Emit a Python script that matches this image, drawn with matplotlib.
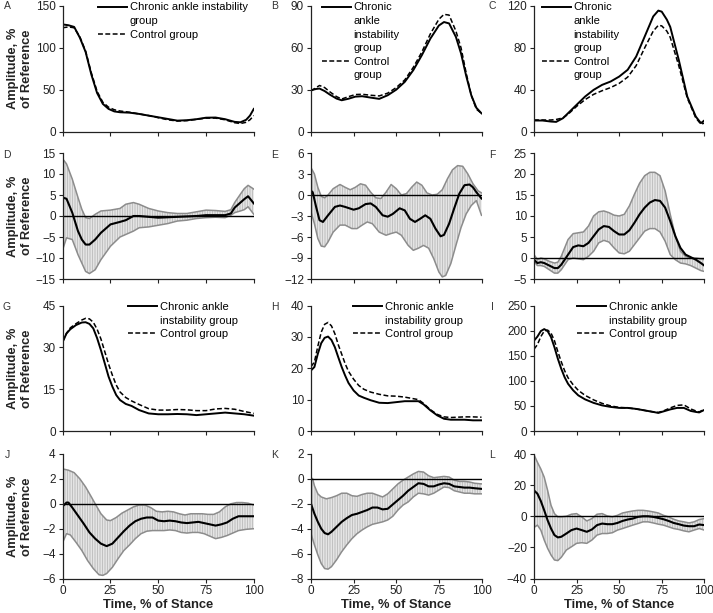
import numpy as np
import matplotlib
matplotlib.use('Agg')
import matplotlib.pyplot as plt
from matplotlib.lines import Line2D

# ---------- top rows: group means (A-C, G-I) ----------
a_x = [0, 3, 6, 9, 12, 15, 18, 21, 24, 27, 30, 35, 40, 45, 50, 55, 60, 65, 70, 75, 80, 85, 90, 93, 96, 98, 100]
a_cai = [128, 127, 125, 112, 95, 68, 46, 33, 27, 24, 23, 22.5, 21, 19, 17, 15, 13, 13.5, 14.7, 16.5, 16.7, 14.7, 11.5, 11, 14, 19, 27]
a_ctl = [124, 125, 124, 113, 96, 70, 48, 35, 29, 26, 24.5, 23, 21, 19, 16.5, 14, 12.5, 13, 14.5, 16, 16, 14, 10.5, 9.5, 11, 14, 19]

b_x = [0, 3, 5, 8, 11, 15, 18, 22, 26, 30, 35, 40, 45, 50, 55, 60, 65, 70, 75, 78, 81, 85, 88, 91, 94, 97, 100]
b_cai = [29.6, 30.5, 30.8, 29, 26.5, 23.6, 22.4, 23.5, 25, 25.3, 24.3, 23.4, 26, 30, 35.6, 44, 54.7, 66.6, 76, 78.5, 77.5, 67.8, 56, 40, 26, 17, 13]
b_ctl = [29, 31.5, 33, 31.5, 28.5, 25, 23.3, 25, 26.5, 26.7, 26, 25.5, 27.5, 31.5, 37, 46, 57, 70, 80.5, 84, 83.5, 72, 60, 42, 26, 16, 13]

c_x = [0, 5, 10, 13, 17, 20, 25, 30, 35, 40, 45, 50, 55, 60, 65, 70, 73, 75, 78, 80, 85, 90, 95, 98, 100]
c_cai = [10.5, 10.5, 9.5, 9.2, 12.7, 17.5, 25.5, 33.4, 39.8, 44.6, 47.8, 52.5, 59, 71.7, 90.8, 110, 115.6, 114.6, 107, 100, 68.5, 33.4, 14.3, 8, 10.5]
c_ctl = [11, 11, 11, 11.5, 13, 16.5, 24, 30.5, 35.5, 39, 42, 46, 52, 63, 80, 96, 101.5, 101, 96, 90, 63, 32, 13, 7, 8]

g_x = [0, 2, 4, 7, 10, 12, 14, 16, 18, 20, 22, 24, 26, 28, 30, 33, 36, 40, 45, 50, 55, 60, 65, 70, 75, 80, 85, 90, 95, 100]
g_cai = [32, 35, 36.5, 38, 38.9, 39, 38.4, 36.8, 33.3, 29, 24.3, 19.5, 15.9, 12.9, 11.1, 9.7, 9, 7.5, 6.3, 6, 6, 6.1, 6, 5.7, 6, 6.3, 6.6, 6.3, 6, 5.5]
g_ctl = [32, 35, 37, 38.5, 39.8, 40.4, 40.2, 39, 36.5, 33, 28.5, 24, 20, 16.5, 14, 12, 10.8, 9.5, 8, 7.5, 7.5, 7.7, 7.6, 7.3, 7.3, 7.9, 8.1, 7.8, 7, 6.3]

h_x = [0, 2, 4, 6, 8, 10, 12, 14, 16, 18, 20, 22, 25, 28, 31, 35, 40, 45, 50, 55, 60, 63, 66, 70, 74, 78, 82, 86, 90, 95, 100]
h_cai = [19.3, 20.4, 24.6, 28, 29.7, 30.1, 29, 26.7, 23.5, 20.4, 17.7, 15.3, 12.9, 11.3, 10.6, 9.8, 9, 8.9, 9.2, 9.5, 9.5, 9.5, 8.5, 6.6, 5, 3.9, 3.6, 3.6, 3.6, 3.4, 3.4]
h_ctl = [20.5, 22, 27, 31.5, 34, 34.6, 33.5, 31, 27.5, 24.5, 21.5, 19, 16.5, 14.5, 13.3, 12.4, 11.7, 11.2, 11.1, 10.8, 10.3, 10, 8.8, 6.8, 5.3, 4.5, 4.3, 4.4, 4.5, 4.5, 4.4]

i_x = [0, 2, 4, 6, 8, 10, 12, 14, 16, 18, 20, 23, 26, 30, 35, 40, 45, 50, 55, 60, 65, 70, 73, 76, 80, 84, 88, 92, 95, 97, 100]
i_cai = [180, 188, 199, 203, 199, 187, 167, 144, 124, 107, 94, 81, 71, 63, 56, 51, 48, 46, 46, 44, 41, 38, 36, 39, 43, 46, 46, 40, 38, 37, 42]
i_ctl = [163, 172, 188, 199, 201, 195, 180, 158, 138, 120, 106, 92, 81, 71, 62, 55, 50, 47, 46, 44, 41, 38, 37, 40, 46, 51, 52, 44, 40, 38, 43]

# ---------- difference rows: mean difference and 90% CI (D-F, J-L) ----------
d_x = [0, 2, 5, 8, 10, 12, 14, 17, 20, 25, 30, 33, 37, 40, 45, 50, 55, 60, 65, 70, 75, 80, 85, 88, 90, 93, 95, 97, 100]
d_mean = [4.4, 4.1, 0.8, -3.6, -5.6, -6.8, -6.8, -5.6, -4, -2, -1.4, -1.0, 0, 0, -0.2, -0.4, -0.3, -0.2, -0.1, 0, 0.2, 0.2, 0.2, 0.6, 2, 3.2, 4.0, 4.7, 3.0]
d_up = [13.6, 12.4, 8.8, 4.4, 1.6, -0.4, -0.6, 0.4, 1.2, 1.4, 1.8, 2.8, 3.2, 2.8, 1.8, 1.2, 0.8, 0.6, 0.6, 1.0, 1.4, 1.3, 1.1, 1.5, 3.2, 5.2, 6.5, 7.3, 6.4]
d_lo = [-8, -5.2, -5.6, -9.2, -11.2, -13.2, -13.7, -12.8, -10.4, -7.2, -5, -4.4, -3.6, -2.8, -2.6, -2.2, -1.8, -1.2, -1, -0.6, -0.4, -0.3, -0.4, 0.2, 0.8, 1.2, 1.5, 2.2, 0.4]

e_mean_x = [0, 1, 3, 5, 7, 10, 14, 17, 20, 25, 28, 32, 35, 38, 42, 45, 48, 52, 55, 58, 61, 64, 67, 70, 73, 76, 78, 81, 84, 87, 90, 93, 95, 97, 100]
e_mean = [0.6, 0.4, -1.7, -3.6, -3.85, -2.9, -1.7, -1.5, -1.7, -2.1, -1.9, -1.3, -1.2, -1.7, -2.9, -3.1, -2.7, -1.9, -2.2, -3.4, -3.85, -3.4, -2.9, -3.4, -4.8, -5.9, -5.7, -4.1, -1.9, 0.2, 1.4, 1.5, 1.1, 0.4, -0.5]
e_up_x = [0, 2, 4, 6, 8, 10, 13, 17, 20, 23, 26, 29, 32, 35, 38, 41, 44, 47, 50, 53, 56, 59, 62, 65, 68, 71, 74, 77, 80, 83, 86, 89, 92, 95, 98, 100]
e_up = [3.9, 3.0, 1.1, -0.2, -0.4, 0, 0.9, 1.5, 1.1, 0.75, 1.1, 1.6, 1.4, 0.4, -0.4, -0.5, 0.4, 1.5, 0.9, 0, 0.2, 1.1, 1.85, 1.4, 0.3, 0, 0.1, 0.75, 2.3, 3.6, 4.2, 4.1, 3.0, 1.6, 0.6, 0.3]
e_lo_x = [0, 2, 4, 6, 8, 10, 13, 17, 20, 24, 27, 30, 33, 36, 40, 44, 47, 50, 53, 57, 60, 63, 66, 69, 72, 75, 77, 79, 82, 85, 88, 91, 94, 97, 100]
e_lo = [-2.4, -4.1, -6.2, -7.3, -7.4, -6.7, -5.3, -4.3, -4.3, -4.8, -4.8, -4.3, -3.85, -4.1, -5.3, -5.75, -5.5, -5.3, -5.75, -7.2, -7.9, -7.6, -7.2, -7.6, -9.1, -11, -11.7, -11.5, -9.8, -7.2, -4.65, -2.7, -1.5, -0.8, -2.9]

f_x = [0, 2, 4, 6, 9, 12, 14, 16, 18, 20, 23, 26, 29, 32, 35, 38, 41, 44, 47, 50, 53, 56, 59, 62, 65, 68, 71, 74, 77, 80, 83, 86, 89, 92, 95, 98, 100]
f_mean = [-0.4, -1.2, -1, -1.2, -1.8, -2.4, -2.4, -1.6, -0.4, 0.8, 2.6, 3.0, 2.8, 3.6, 5.2, 6.8, 7.6, 7.4, 6.4, 5.6, 5.6, 6.6, 8.4, 10.4, 12, 13.2, 13.8, 13.6, 12, 8.8, 5.2, 2.4, 0.8, 0.2, -0.4, -1.2, -1.8]
f_up = [0.8, -0.4, 0, -0.2, -0.8, -1.2, -1, 0.4, 2.4, 4.4, 5.8, 6, 6.2, 7.6, 10, 11, 11.2, 10.8, 10.2, 10, 10.4, 12.4, 15.2, 17.8, 19.6, 20.4, 20.4, 19.6, 16, 10.4, 5.2, 1.6, 0.4, 0, 0, -0.2, -0.4]
f_lo = [-0.8, -1.8, -1.8, -2, -2.8, -3.6, -3.6, -2.8, -1.6, -0.4, 0, -0.2, -0.4, 0.4, 1.6, 3.6, 4.2, 3.8, 2.4, 1.2, 1, 1.6, 3.2, 4.8, 6.4, 7, 7, 6.2, 4, 0.8, -0.4, -1.2, -1.4, -1.8, -2.4, -3, -3.2]

j_mean_x = [0, 2, 3, 5, 8, 11, 14, 17, 20, 23, 26, 29, 32, 35, 38, 41, 44, 47, 50, 53, 56, 59, 62, 65, 68, 71, 74, 77, 80, 83, 86, 89, 92, 96, 100]
j_mean = [-0.2, 0.1, 0.1, -0.3, -0.95, -1.6, -2.3, -2.8, -3.2, -3.4, -3.2, -2.7, -2.2, -1.75, -1.4, -1.2, -1.1, -1.1, -1.35, -1.4, -1.35, -1.4, -1.5, -1.55, -1.5, -1.45, -1.55, -1.65, -1.75, -1.65, -1.5, -1.2, -1.0, -1.0, -1.0]
j_up_x = [0, 3, 6, 9, 12, 15, 17, 20, 23, 25, 28, 31, 34, 37, 40, 43, 46, 49, 52, 55, 58, 61, 64, 67, 70, 73, 76, 79, 82, 85, 88, 91, 94, 97, 100]
j_up = [2.8, 2.7, 2.5, 2.0, 1.35, 0.55, 0, -0.8, -1.3, -1.35, -1.1, -0.75, -0.5, -0.25, -0.1, -0.1, -0.3, -0.6, -0.65, -0.6, -0.65, -0.8, -0.9, -0.8, -0.8, -0.8, -0.85, -0.85, -0.65, -0.25, 0, 0.1, 0.1, 0.05, -0.1]
j_lo_x = [0, 2, 4, 7, 10, 13, 16, 19, 21, 23, 26, 29, 32, 35, 38, 41, 44, 47, 50, 53, 56, 59, 62, 65, 68, 71, 74, 77, 80, 83, 86, 89, 92, 96, 100]
j_lo = [-3.1, -2.4, -2.5, -3.1, -3.75, -4.55, -5.2, -5.7, -5.75, -5.6, -5.1, -4.4, -3.75, -3.3, -2.8, -2.4, -2.2, -2.15, -2.15, -2.15, -2.1, -2.15, -2.3, -2.35, -2.3, -2.3, -2.4, -2.6, -2.8, -2.7, -2.55, -2.35, -2.15, -2.05, -2.0]

k_x = [0, 2, 4, 6, 8, 10, 12, 15, 18, 21, 24, 27, 30, 33, 36, 39, 42, 45, 48, 51, 54, 57, 60, 63, 66, 69, 72, 75, 78, 81, 84, 87, 90, 93, 96, 100]
k_mean = [-2.0, -2.8, -3.45, -4, -4.35, -4.45, -4.25, -3.85, -3.45, -3.15, -2.9, -2.8, -2.65, -2.5, -2.3, -2.3, -2.45, -2.4, -2.05, -1.7, -1.35, -0.95, -0.65, -0.35, -0.4, -0.6, -0.6, -0.45, -0.35, -0.4, -0.6, -0.65, -0.7, -0.7, -0.75, -0.8]
k_lo = [-4.4, -5.3, -6.1, -6.8, -7.2, -7.25, -7.05, -6.5, -5.85, -5.3, -4.8, -4.4, -4.1, -3.85, -3.65, -3.55, -3.45, -3.3, -3.0, -2.5, -2.1, -1.85, -1.45, -1.15, -1.2, -1.3, -1.15, -0.9, -0.65, -0.7, -0.95, -1.05, -1.15, -1.15, -1.2, -1.2]
k_up_x = [0, 1, 2, 4, 6, 9, 12, 15, 18, 21, 24, 27, 30, 33, 36, 39, 42, 45, 48, 51, 54, 57, 60, 63, 66, 69, 72, 75, 78, 81, 84, 87, 90, 93, 96, 100]
k_up = [0.1, 0, -0.55, -1.2, -1.45, -1.6, -1.5, -1.35, -1.15, -1.15, -1.35, -1.4, -1.25, -1.15, -1.15, -1.3, -1.45, -1.2, -0.8, -0.4, -0.1, 0.15, 0.4, 0.6, 0.55, 0.25, 0.1, 0.15, 0.2, 0.15, -0.1, -0.2, -0.2, -0.25, -0.35, -0.4]

l_x = [0, 2, 4, 6, 8, 10, 12, 14, 16, 19, 22, 25, 28, 31, 34, 37, 40, 43, 46, 49, 52, 55, 58, 61, 64, 67, 70, 73, 76, 79, 82, 85, 88, 91, 94, 97, 100]
l_mean = [16.6, 14.5, 9.8, 3.8, -2.6, -7.9, -12.1, -13.6, -13.2, -11.1, -8.9, -7.9, -8.9, -10, -8.5, -5.7, -4.7, -5.1, -5.1, -4.3, -3, -2.1, -1.5, -0.4, 0, 0, -0.4, -1.1, -1.9, -3, -4.3, -5.1, -6, -6.4, -6.4, -5.3, -5.7]
l_up = [39.6, 34.7, 30.4, 25.1, 16.6, 7, 1.7, -0.4, -0.4, 0, 1.3, 1.7, -0.4, -3, -1.5, 1.3, 1.7, 0.2, -0.4, 0.6, 2.1, 2.8, 3.4, 3.8, 3.8, 3.4, 2.8, 2.1, 0.6, -0.4, -1.9, -3, -3.6, -4.3, -3.6, -2.1, -1.5]
l_lo = [-7.2, -5.7, -8.9, -15.3, -20.6, -24.9, -28.1, -28.5, -26.4, -21.7, -19.6, -17.4, -17, -17.4, -15.3, -12.1, -11.1, -11.1, -10.6, -8.9, -7.9, -6.8, -5.7, -4.7, -3.6, -3.6, -4.3, -5.1, -5.7, -6.8, -7.9, -8.5, -9.4, -10, -8.9, -7.9, -8.9]

x_ticks = [0, 25, 50, 75, 100]
cai_wide = ['Chronic ankle instability', 'group']
cai_mid = ['Chronic ankle', 'instability group']
cai_narrow = ['Chronic', 'ankle', 'instability', 'group']
ctl_wide = ['Control group']
ctl_narrow = ['Control', 'group']

W, H = 713, 613
plt.rcParams['font.family'] = ['Liberation Sans', 'DejaVu Sans']
plt.rcParams['hatch.color'] = '#b8b8b8'
plt.rcParams['hatch.linewidth'] = 0.6

fig = plt.figure(figsize=(W / 100, H / 100), dpi=100)

# pixel layout of the 4x3 grid
cols = [(62.7, 191.1), (311, 170.5), (534, 170.3)]
rows = [(6, 131.5), (153, 279), (305.5, 431), (454, 578.5)]


def make_ax(r, c):
    left, width = cols[c]
    top, bottom = rows[r]
    return fig.add_axes([left / W, 1 - bottom / H, width / W, (bottom - top) / H])


def style(ax, ylim, yticks, bottom_row):
    ax.set_xlim(0, 100)
    ax.set_ylim(*ylim)
    ax.set_xticks(x_ticks)
    ax.set_yticks(yticks)
    for s in ['top', 'right']:
        ax.spines[s].set_visible(False)
    for s in ['left', 'bottom']:
        ax.spines[s].set_color('#222222')
        ax.spines[s].set_linewidth(0.9)
        ax.spines[s].set_zorder(5)
    ax.tick_params(direction='out', length=3, width=0.8, labelsize=8.5, pad=2,
                   colors='#222222')
    if not bottom_row:
        ax.tick_params(axis='x', labelbottom=False)


def plot_means(ax, x, cai, ctl, cai_text, ctl_text, anchor):
    h1, = ax.plot(x, cai, color='black', lw=1.4)
    h2, = ax.plot(x, ctl, color='black', lw=1.1, ls=(0, (3.2, 1.6)))
    blank = Line2D([], [], color='none')
    handles = [h1 if i == 0 else blank for i in range(len(cai_text))]
    handles += [h2 if i == 0 else blank for i in range(len(ctl_text))]
    ax.legend(handles, cai_text + ctl_text, loc='upper left', bbox_to_anchor=anchor,
              frameon=False, fontsize=8, handlelength=2.6, handletextpad=0.25,
              labelspacing=0.32, borderpad=0, borderaxespad=0)


def plot_band(ax, mx, mean, ux, up, lx, lo):
    ax.fill(np.r_[ux, lx[::-1]], np.r_[up, lo[::-1]], facecolor='#f4f4f4',
            hatch='|' * 10, lw=0, zorder=1)
    ax.plot(ux, up, color='#8c8c8c', lw=1.1, zorder=2)
    ax.plot(lx, lo, color='#8c8c8c', lw=1.1, zorder=2)
    ax.axhline(0, color='black', lw=1.0, zorder=3)
    ax.plot(mx, mean, color='black', lw=1.5, zorder=4)


# row 1
ax = make_ax(0, 0)
plot_means(ax, a_x, a_cai, a_ctl, cai_wide, ctl_wide, (0.185, 1.028))
style(ax, (0, 150), [0, 50, 100, 150], False)
ax = make_ax(0, 1)
plot_means(ax, b_x, b_cai, b_ctl, cai_narrow, ctl_narrow, (0.065, 1.028))
style(ax, (0, 90), [0, 30, 60, 90], False)
ax = make_ax(0, 2)
plot_means(ax, c_x, c_cai, c_ctl, cai_narrow, ctl_narrow, (0.047, 1.028))
style(ax, (0, 120), [0, 40, 80, 120], False)

# row 2
ax = make_ax(1, 0)
plot_band(ax, d_x, d_mean, d_x, d_up, d_x, d_lo)
style(ax, (-15, 15), [-15, -10, -5, 0, 5, 10, 15], False)
ax = make_ax(1, 1)
plot_band(ax, e_mean_x, e_mean, e_up_x, e_up, e_lo_x, e_lo)
style(ax, (-12, 6), [-12, -9, -6, -3, 0, 3, 6], False)
ax = make_ax(1, 2)
plot_band(ax, f_x, f_mean, f_x, f_up, f_x, f_lo)
style(ax, (-5, 25), [-5, 0, 5, 10, 15, 20, 25], False)

# row 3
ax = make_ax(2, 0)
plot_means(ax, g_x, g_cai, g_ctl, cai_mid, ctl_wide, (0.342, 1.028))
style(ax, (0, 45), [0, 15, 30, 45], False)
ax = make_ax(2, 1)
plot_means(ax, h_x, h_cai, h_ctl, cai_mid, ctl_wide, (0.246, 1.028))
style(ax, (0, 40), [0, 10, 20, 30, 40], False)
ax = make_ax(2, 2)
plot_means(ax, i_x, i_cai, i_ctl, cai_mid, ctl_wide, (0.252, 1.028))
style(ax, (0, 250), [0, 50, 100, 150, 200, 250], False)

# row 4
ax = make_ax(3, 0)
plot_band(ax, j_mean_x, j_mean, j_up_x, j_up, j_lo_x, j_lo)
style(ax, (-6, 4), [-6, -4, -2, 0, 2, 4], True)
ax = make_ax(3, 1)
plot_band(ax, k_x, k_mean, k_up_x, k_up, k_x, k_lo)
style(ax, (-8, 2), [-8, -6, -4, -2, 0, 2], True)
ax = make_ax(3, 2)
plot_band(ax, l_x, l_mean, l_x, l_up, l_x, l_lo)
style(ax, (-40, 40), [-40, -20, 0, 20, 40], True)

axes = fig.axes
for r in range(4):
    a = axes[r * 3]
    a.text(-0.2235, 0.5, 'Amplitude, %\nof Reference', transform=a.transAxes,
           rotation=90, ha='center', va='center', multialignment='center',
           fontsize=9.3, fontweight='bold', color='#222222')
for c in range(3):
    a = axes[9 + c]
    a.text(0.5, -0.213, 'Time, % of Stance', transform=a.transAxes, ha='center',
           va='center', fontsize=9.3, fontweight='bold', color='#222222')

# panel letters
letters = ['A', 'B', 'C', 'D', 'E', 'F', 'G', 'H', 'I', 'J', 'K', 'L']
letter_x = [7, 275, 492]
letter_y = [6.3, 155, 307, 455]
for n, s in enumerate(letters):
    fig.text(letter_x[n % 3] / W, 1 - letter_y[n // 3] / H, s, ha='center', va='center',
             fontsize=7.5, color='#333333')

fig.savefig('out.png', dpi=100)
